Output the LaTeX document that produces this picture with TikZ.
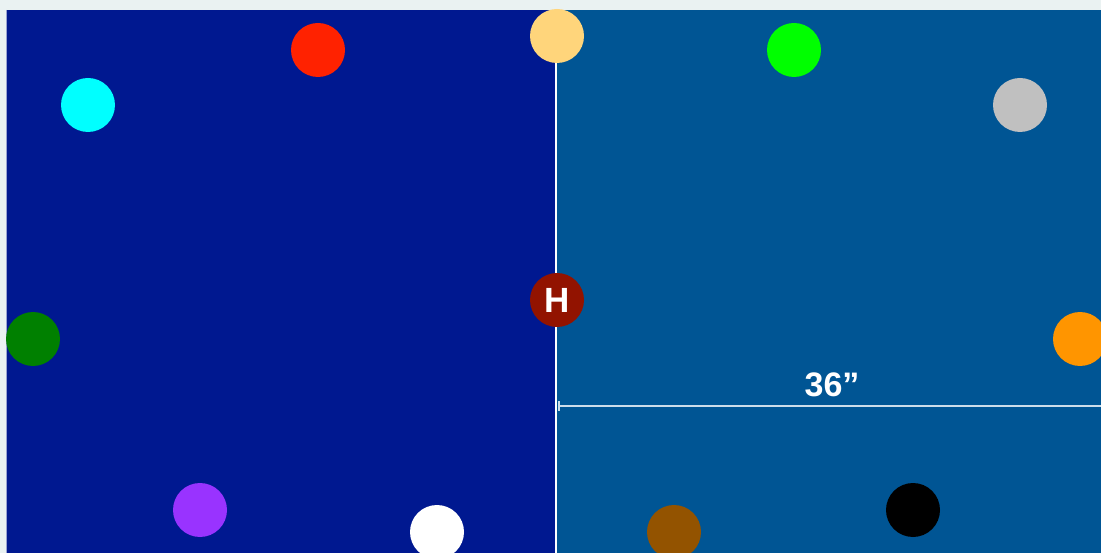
\documentclass[tikz,border=0pt]{standalone}
\usepackage{fontspec}
\setmainfont{Liberation Sans}
\begin{document}
\begin{tikzpicture}[x=1pt,y=-1pt,
  dot/.style={circle,inner sep=0pt,minimum size=54pt},
  lbl/.style={text=white,font=\bfseries}]
\definecolor{pagebg}{HTML}{EAF2F2}
\definecolor{leftblue}{HTML}{001890}
\definecolor{rightblue}{HTML}{005594}
\definecolor{cyellow}{HTML}{FFD57B}
\definecolor{cred}{HTML}{FF2200}
\definecolor{ccyan}{HTML}{00FFFF}
\definecolor{cgreen}{HTML}{00FF00}
\definecolor{cgrey}{HTML}{C0C0C0}
\definecolor{chost}{HTML}{921300}
\definecolor{cdkgreen}{HTML}{008000}
\definecolor{corange}{HTML}{FF9500}
\definecolor{cpurple}{HTML}{9933FF}
\definecolor{cbrown}{HTML}{935300}
\useasboundingbox (0,0) rectangle (1101,553);
\fill[pagebg] (0,0) rectangle (1101,553);
\fill[leftblue] (6,10) rectangle (556,553);
\fill[rightblue] (556,10) rectangle (1101,553);
\draw[white!60!leftblue,line width=0.8pt] (6.4,10) -- (6.4,553);
\coordinate (vtop) at (556,10);
\coordinate (vbot) at (556,553);
\draw[white,line width=1.3pt] (vtop) -- (vbot);
\coordinate (tk) at (559,406);
\coordinate (hend) at (1101,406);
\draw[white!80!rightblue,line width=1.1pt] (tk) -- (hend);
\draw[white!80!rightblue,line width=1.1pt] (559,401.5) -- (559,410.5);
\node[lbl,font=\bfseries\fontsize{34}{36}\selectfont,anchor=base] (dim) at (832,396.5) {36”};
\node[dot,fill=cyellow] (yellow) at (557,36) {};
\node[dot,fill=cred] (red) at (318,50) {};
\node[dot,fill=ccyan] (cyan) at (88,105) {};
\node[dot,fill=cgreen] (green) at (794,50) {};
\node[dot,fill=cgrey] (grey) at (1020,105) {};
\node[dot,fill=chost,lbl,font=\bfseries\fontsize{35}{36}\selectfont] (host) at (557,300) {H};
\node[dot,fill=cdkgreen] (dkgreen) at (33,339) {};
\node[dot,fill=corange] (orange) at (1080,339) {};
\node[dot,fill=cpurple] (purple) at (200,510) {};
\node[dot,fill=white] (whitedot) at (437,532) {};
\node[dot,fill=cbrown] (brown) at (674,532) {};
\node[dot,fill=black] (blackdot) at (913,510) {};
\end{tikzpicture}
\end{document}
